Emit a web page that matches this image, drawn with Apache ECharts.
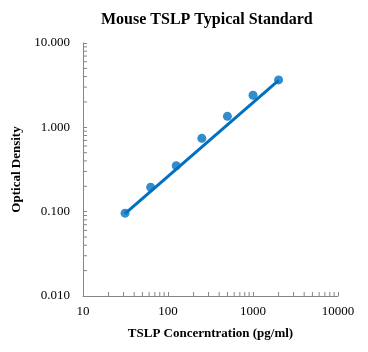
<!DOCTYPE html>
<html>
<head>
<meta charset="utf-8">
<script src="https://cdn.jsdelivr.net/npm/echarts@6/dist/echarts.min.js"></script>
<style>
  html, body { margin: 0; padding: 0; background: #fff; }
  #chart { width: 368px; height: 352px; }
</style>
</head>
<body>
<div id="chart"></div>
<script>
// standard curve points
const concentrations = [31.25, 62.5, 125, 250, 500, 1000, 2000];
const odValues = [0.096, 0.195, 0.35, 0.74, 1.35, 2.4, 3.65];
// trend line ends (power fit)
const trendX = [31.25, 2000];
const trendY = [0.095, 3.6];
// axis ranges
const xTicks = [10, 100, 1000, 10000];
const yTicks = [0.01, 0.1, 1, 10];

const serif = "'Liberation Serif', 'Times New Roman', serif";
const axisGray = '#868686';
const blue = '#0070C0';

// minor tick values 2..9 in each decade
function minorValues(ticks) {
  const out = [];
  for (let i = 0; i < ticks.length - 1; i++) {
    for (let k = 2; k <= 9; k++) out.push(ticks[i] * k);
  }
  return out;
}

const chart = echarts.init(document.getElementById('chart'));

const option = {
  backgroundColor: '#fff',
  animation: false,
  textStyle: { fontFamily: serif },
  title: {
    text: 'Mouse TSLP Typical Standard',
    left: 96,
    top: 7,
    textStyle: { fontFamily: serif, fontSize: 16, fontWeight: 'bold', color: '#000' }
  },
  grid: { left: 83, right: 30, top: 43, bottom: 56 },
  xAxis: {
    type: 'log',
    logBase: 10,
    min: xTicks[0],
    max: xTicks[xTicks.length - 1],
    name: 'TSLP Concerntration (pg/ml)',
    nameLocation: 'middle',
    nameGap: 31,
    nameTextStyle: { fontFamily: serif, fontSize: 13, fontWeight: 'bold', color: '#000' },
    axisLine: { lineStyle: { color: axisGray, width: 1 } },
    axisTick: { inside: true, length: 4, lineStyle: { color: axisGray } },
    axisLabel: {
      color: '#000', fontSize: 13, margin: 9, fontFamily: serif,
      formatter: (v) => String(Math.round(v))
    },
    splitLine: { show: false }
  },
  yAxis: {
    type: 'log',
    logBase: 10,
    min: yTicks[0],
    max: yTicks[yTicks.length - 1],
    name: 'Optical Density',
    nameLocation: 'middle',
    nameGap: 52,
    nameTextStyle: { fontFamily: serif, fontSize: 13, fontWeight: 'bold', color: '#000' },
    axisLine: { show: true, lineStyle: { color: axisGray, width: 1 } },
    axisTick: { show: true, inside: true, length: 4, lineStyle: { color: axisGray } },
    axisLabel: {
      color: '#000', fontSize: 13, margin: 13, fontFamily: serif,
      formatter: (v) => Number(v).toFixed(3)
    },
    splitLine: { show: false }
  },
  series: [
    {
      // minor ticks on x axis
      type: 'custom',
      silent: true,
      data: minorValues(xTicks),
      renderItem: (params, api) => {
        const p = api.coord([api.value(0), yTicks[0]]);
        return {
          type: 'line',
          shape: { x1: p[0], y1: p[1], x2: p[0], y2: p[1] - 4 },
          style: { stroke: axisGray, lineWidth: 1 }
        };
      },
      encode: { x: 0 },
      z: 1
    },
    {
      // minor ticks on y axis
      type: 'custom',
      silent: true,
      data: minorValues(yTicks).map((v) => [xTicks[0], v]),
      renderItem: (params, api) => {
        const p = api.coord([xTicks[0], api.value(1)]);
        return {
          type: 'line',
          shape: { x1: p[0], y1: p[1], x2: p[0] + 4, y2: p[1] },
          style: { stroke: axisGray, lineWidth: 1 }
        };
      },
      encode: { x: 0, y: 1 },
      z: 1
    },
    {
      name: 'Trend',
      type: 'line',
      data: trendX.map((x, i) => [x, trendY[i]]),
      symbol: 'none',
      lineStyle: { color: blue, width: 3 },
      z: 2
    },
    {
      name: 'OD',
      type: 'scatter',
      data: concentrations.map((x, i) => [x, odValues[i]]),
      symbol: 'circle',
      symbolSize: 9,
      itemStyle: { color: blue },
      z: 3
    }
  ]
};

chart.setOption(option);
window.addEventListener('resize', () => chart.resize());
</script>
</body>
</html>
